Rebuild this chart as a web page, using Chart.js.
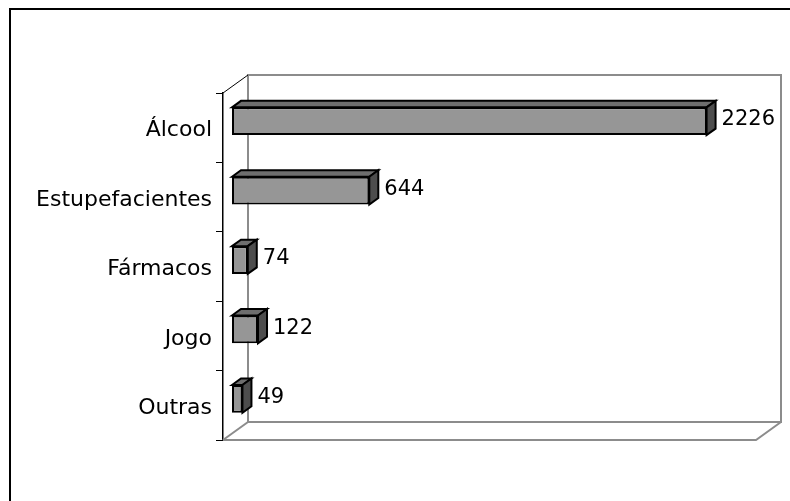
<!DOCTYPE html>
<html>
<head>
<meta charset="utf-8">
<script src="https://cdn.jsdelivr.net/npm/chart.js@4/dist/chart.umd.min.js"></script>
<style>
  html, body { margin: 0; padding: 0; background: #ffffff; }
  canvas { display: block; }
</style>
</head>
<body>
<canvas id="c" width="790" height="501"></canvas>
<script>
// ---- data ----
const categories = ["Álcool", "Estupefacientes", "Fármacos", "Jogo", "Outras"];
const values = [2226, 644, 74, 122, 49];
const axisMax = 2500;

// ---- 3D look ----
const WALL_DX = 25, WALL_DY = 18;      // depth of floor / side walls
const BAR_SHIFT = 0.36;                 // bar front plane (fraction of depth)
const BAR_DEPTH = 0.36;                 // bar depth (fraction of depth)
const FONT = "'DejaVu Sans', Verdana, sans-serif";
const CAT_FONT_SIZE = 22;
const VAL_FONT_SIZE = 21;

const threeD = {
  id: 'threeD',
  beforeDraw(chart) {
    const ctx = chart.ctx;
    ctx.save();
    ctx.fillStyle = '#ffffff';
    ctx.fillRect(0, 0, chart.width, chart.height);
    // outer frame
    ctx.strokeStyle = '#000';
    ctx.lineWidth = 2;
    ctx.strokeRect(10, 9, chart.width + 20, chart.height + 20);
    ctx.restore();
  },
  beforeDatasetsDraw(chart) {
    const ctx = chart.ctx;
    const a = chart.chartArea;
    const L = a.left, R = a.right, T = a.top, B = a.bottom;
    ctx.save();
    ctx.strokeStyle = '#8c8c8c';
    ctx.lineWidth = 2;
    // back wall
    ctx.strokeRect(L + WALL_DX, T - WALL_DY, R - L, B - T);
    // floor
    ctx.beginPath();
    ctx.moveTo(L, B);
    ctx.lineTo(R, B);
    ctx.lineTo(R + WALL_DX, B - WALL_DY);
    ctx.moveTo(L, B);
    ctx.lineTo(L + WALL_DX, B - WALL_DY);
    ctx.stroke();
    // side wall top edge
    ctx.strokeStyle = '#000';
    ctx.lineWidth = 1;
    ctx.beginPath();
    ctx.moveTo(L, T);
    ctx.lineTo(L + WALL_DX, T - WALL_DY);
    ctx.stroke();
    ctx.restore();
    // shift bars into their depth plane
    ctx.save();
    ctx.translate(WALL_DX * BAR_SHIFT, -WALL_DY * BAR_SHIFT);
  },
  afterDatasetsDraw(chart) {
    const ctx = chart.ctx;
    const dx = WALL_DX * BAR_DEPTH, dy = WALL_DY * BAR_DEPTH;
    const meta = chart.getDatasetMeta(0);
    ctx.lineWidth = 2;
    ctx.strokeStyle = '#000';
    ctx.lineJoin = 'miter';
    meta.data.forEach((bar, i) => {
      const p = bar.getProps(['x', 'y', 'base', 'height'], true);
      const x0 = p.base, x1 = p.x, top = p.y - p.height / 2, bot = p.y + p.height / 2;
      // top face
      ctx.beginPath();
      ctx.moveTo(x0, top);
      ctx.lineTo(x0 + dx, top - dy);
      ctx.lineTo(x1 + dx, top - dy);
      ctx.lineTo(x1, top);
      ctx.closePath();
      ctx.fillStyle = '#6e6e6e';
      ctx.fill();
      ctx.stroke();
      // right face
      ctx.beginPath();
      ctx.moveTo(x1, top);
      ctx.lineTo(x1 + dx, top - dy);
      ctx.lineTo(x1 + dx, bot - dy);
      ctx.lineTo(x1, bot);
      ctx.closePath();
      ctx.fillStyle = '#4d4d4d';
      ctx.fill();
      ctx.stroke();
      // value label
      ctx.fillStyle = '#000';
      ctx.font = VAL_FONT_SIZE + 'px ' + FONT;
      ctx.textAlign = 'left';
      ctx.textBaseline = 'middle';
      ctx.fillText(String(values[i]), x1 + dx + 6, p.y - dy / 2 + 2);
    });
    ctx.restore();
  }
};

new Chart(document.getElementById('c'), {
  type: 'bar',
  data: {
    labels: categories,
    datasets: [{
      data: values,
      backgroundColor: '#969696',
      borderColor: '#000',
      borderWidth: 2,
      borderSkipped: false,
      barPercentage: 0.8,
      categoryPercentage: 0.5,
      clip: false
    }]
  },
  options: {
    indexAxis: 'y',
    responsive: false,
    animation: false,
    events: [],
    layout: { padding: { left: 0, top: 93, right: 34, bottom: 61 } },
    plugins: { legend: { display: false }, tooltip: { enabled: false } },
    scales: {
      x: { display: false, min: 0, max: axisMax },
      y: {
        afterFit(scale) { scale.width = 223; },
        border: { display: true, color: '#000', width: 1.5 },
        grid: { display: true, drawOnChartArea: false, drawTicks: true, tickLength: 7, color: '#000', lineWidth: 1, offset: true },
        ticks: { color: '#000', padding: 4, labelOffset: 3, font: { family: FONT, size: CAT_FONT_SIZE } }
      }
    }
  },
  plugins: [threeD]
});
</script>
</body>
</html>
